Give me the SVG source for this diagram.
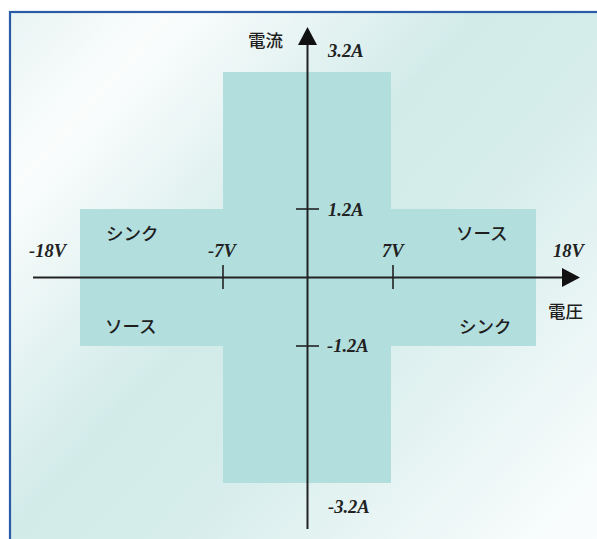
<svg xmlns="http://www.w3.org/2000/svg" width="597" height="539" viewBox="0 0 597 539">
<defs>
<linearGradient id="bg" gradientUnits="userSpaceOnUse" x1="0" y1="0" x2="597" y2="539">
<stop offset="0" stop-color="#e6f3f2"/>
<stop offset="0.17" stop-color="#fbfdfd"/>
<stop offset="0.45" stop-color="#d2ebe9"/>
<stop offset="0.58" stop-color="#d4ecea"/>
<stop offset="0.95" stop-color="#f8fcfc"/>
<stop offset="1" stop-color="#fafdfd"/>
</linearGradient>
<style>
.area{fill:#b2dfde;}
.ax{stroke:#222;stroke-width:2;fill:none;}
.tk{stroke:#222;stroke-width:1.6;fill:none;}
.num{font-family:"Liberation Serif",serif;font-style:italic;font-weight:bold;font-size:18.5px;fill:#222;}
.jp{font-family:"Noto Sans CJK JP","Noto Sans CJK SC",sans-serif;font-size:17.5px;font-weight:500;fill:#1e1e1e;}
</style>
</defs>
<rect x="0" y="0" width="597" height="539" fill="#ffffff"/>
<rect x="10" y="12" width="620" height="560" fill="url(#bg)"/>
<rect x="10" y="12" width="620" height="560" fill="none" stroke="#2a5ba6" stroke-width="2.2"/>
<g id="operating-area">
<rect class="area" x="223" y="72" width="168" height="411"/>
<rect class="area" x="80" y="209" width="456" height="137"/>
</g>
<g id="connectors">
<line class="ax" x1="307.5" y1="40" x2="307.5" y2="529"/>
<polygon points="307.5,27 298,45 317,45" fill="#111"/>
<line class="ax" x1="33" y1="277.5" x2="565" y2="277.5"/>
<polygon points="580,277.5 562,268 562,287" fill="#111"/>
<line class="tk" x1="223" y1="265" x2="223" y2="289"/>
<line class="tk" x1="393" y1="265" x2="393" y2="289"/>
<line class="tk" x1="296" y1="209" x2="319" y2="209"/>
<line class="tk" x1="296" y1="346" x2="319" y2="346"/>
</g>
<g id="labels">
<text class="jp" x="248" y="47">電流</text>
<text class="jp" x="548" y="318">電圧</text>
<text class="num" x="328" y="57">3.2A</text>
<text class="num" x="328" y="216">1.2A</text>
<text class="num" x="327" y="352">-1.2A</text>
<text class="num" x="328" y="513">-3.2A</text>
<text class="num" x="29" y="257">-18V</text>
<text class="num" x="208" y="257">-7V</text>
<text class="num" x="382" y="257">7V</text>
<text class="num" x="553" y="257">18V</text>
<text class="jp" x="106" y="240">シンク</text>
<text class="jp" x="105" y="333">ソース</text>
<text class="jp" x="456" y="240">ソース</text>
<text class="jp" x="459" y="333">シンク</text>
</g>
</svg>
